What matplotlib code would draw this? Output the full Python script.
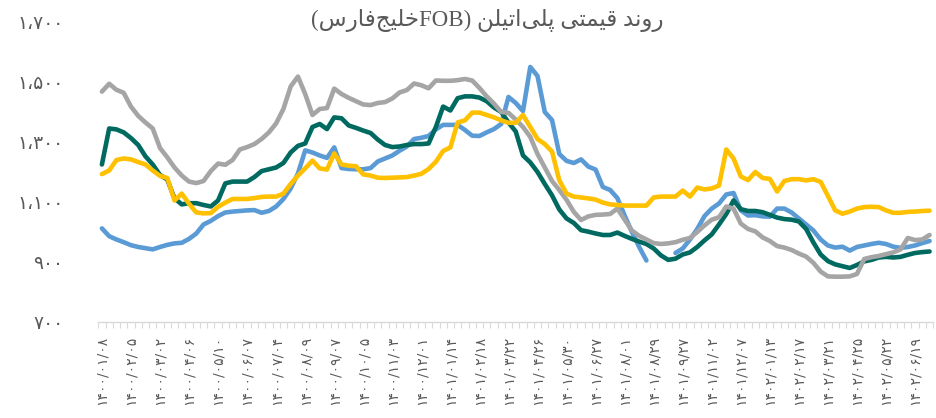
import numpy as np
import matplotlib.pyplot as plt

# weekly FOB Persian Gulf polyethylene prices (USD/t), four grades
blue = [1012, 986, 975, 966, 956, 950, 946, 942, 950, 957,
        962, 964, 977, 995, 1025, 1037, 1053, 1065, 1068, 1070,
        1072, 1073, 1064, 1070, 1085, 1110, 1145, 1195, 1272, 1265,
        1255, 1247, 1282, 1213, 1210, 1209, 1209, 1213, 1235, 1245,
        1255, 1271, 1285, 1310, 1314, 1320, 1342, 1357, 1357, 1357,
        1340, 1321, 1320, 1332, 1343, 1360, 1450, 1430, 1403, 1550,
        1520, 1400, 1373, 1260, 1237, 1230, 1242, 1218, 1208, 1150,
        1140, 1113, 1055, 1000, 950, 905, np.nan, np.nan, np.nan, 930,
        945, 975, 1010, 1053, 1078, 1095, 1125, 1130, 1072, 1055,
        1056, 1052, 1051, 1078, 1078, 1065, 1045, 1025, 1005, 975,
        955, 948, 951, 938, 950, 955, 960, 964, 960, 951,
        947, 950, 955, 963, 970]
teal = [1225, 1345, 1342, 1332, 1313, 1290, 1252, 1225, 1190, 1175,
        1112, 1092, 1096, 1096, 1090, 1085, 1105, 1162, 1168, 1168,
        1168, 1183, 1203, 1209, 1215, 1230, 1265, 1287, 1295, 1350,
        1360, 1343, 1382, 1379, 1355, 1347, 1338, 1330, 1308, 1290,
        1283, 1285, 1290, 1293, 1293, 1295, 1350, 1418, 1405, 1446,
        1452, 1452, 1448, 1436, 1415, 1400, 1365, 1335, 1255, 1232,
        1200, 1160, 1122, 1075, 1045, 1030, 1006, 1001, 995, 990,
        990, 998, 987, 977, 968, 960, 945, 922, 907, 911,
        925, 932, 950, 972, 992, 1025, 1060, 1105, 1076, 1070,
        1070, 1066, 1057, 1048, 1043, 1041, 1035, 1010, 965, 925,
        903, 892, 886, 880, 890, 902, 907, 915, 917, 915,
        917, 924, 930, 933, 935]
gray = [1468, 1494, 1474, 1464, 1418, 1387, 1365, 1345, 1280, 1249,
        1215, 1188, 1168, 1163, 1170, 1203, 1228, 1224, 1240, 1275,
        1283, 1293, 1310, 1332, 1362, 1410, 1485, 1518, 1460, 1390,
        1410, 1413, 1478, 1460, 1447, 1436, 1425, 1423, 1430, 1433,
        1445, 1465, 1473, 1495, 1489, 1479, 1505, 1504, 1504, 1506,
        1510, 1505, 1480, 1452, 1428, 1400, 1397, 1375, 1350, 1317,
        1260, 1215, 1170, 1140, 1107, 1067, 1040, 1052, 1057, 1058,
        1060, 1078, 1041, 1005, 987, 975, 963, 960, 962, 966,
        974, 980, 1000, 1022, 1041, 1049, 1085, 1078, 1028, 1010,
        1002, 982, 970, 953, 948, 940, 928, 918, 897, 868,
        852, 851, 851, 852, 860, 910, 916, 920, 926, 932,
        942, 980, 973, 975, 990]
yellow = [1193, 1205, 1240, 1245, 1242, 1233, 1225, 1205, 1187, 1180,
          1105, 1128, 1094, 1065, 1062, 1063, 1084, 1098, 1110, 1110,
          1110, 1113, 1117, 1118, 1118, 1128, 1160, 1188, 1212, 1238,
          1212, 1208, 1262, 1225, 1221, 1219, 1192, 1188, 1181, 1180,
          1181, 1182, 1183, 1188, 1194, 1210, 1234, 1270, 1282, 1365,
          1372, 1398, 1398, 1390, 1382, 1372, 1364, 1364, 1390, 1350,
          1310, 1293, 1268, 1172, 1128, 1118, 1115, 1112, 1108, 1098,
          1092, 1090, 1088, 1088, 1088, 1088, 1115, 1118, 1118, 1118,
          1138, 1118, 1148, 1142, 1145, 1155, 1275, 1245, 1185, 1173,
          1200, 1180, 1177, 1135, 1170, 1176, 1176, 1172, 1176, 1167,
          1120, 1072, 1061, 1068, 1078, 1083, 1084, 1083, 1072, 1064,
          1064, 1067, 1068, 1070, 1071]

# one label every fourth week
date_labels = ['1400/01/08', '1400/02/05', '1400/03/02', '1400/04/06', '1400/05/10',
               '1400/06/07', '1400/07/04', '1400/08/09', '1400/09/07', '1400/10/05',
               '1400/11/03', '1400/12/01', '1401/01/14', '1401/02/18', '1401/03/22',
               '1401/04/26', '1401/05/30', '1401/06/27', '1401/08/01', '1401/08/29',
               '1401/09/27', '1401/11/02', '1401/12/07', '1402/01/13', '1402/02/17',
               '1402/03/21', '1402/04/25', '1402/05/22', '1402/06/19']
y_ticks = [700, 900, 1100, 1300, 1500, 1700]
title_fa = 'روند قیمتی پلی\u200cاتیلن'
title_tail = 'خلیج\u200cفارس'

colors = ['#5B9BD5', '#006A61', '#A5A5A5', '#FFC000']

FA_DIGITS = str.maketrans('0123456789', '۰۱۲۳۴۵۶۷۸۹')

# presentation forms: isolated, final, initial, medial
FORMS = {
    'ا': ('\uFE8D', '\uFE8E', None, None),
    'ت': ('\uFE95', '\uFE96', '\uFE97', '\uFE98'),
    'ج': ('\uFE9D', '\uFE9E', '\uFE9F', '\uFEA0'),
    'خ': ('\uFEA5', '\uFEA6', '\uFEA7', '\uFEA8'),
    'د': ('\uFEA9', '\uFEAA', None, None),
    'ر': ('\uFEAD', '\uFEAE', None, None),
    'س': ('\uFEB1', '\uFEB2', '\uFEB3', '\uFEB4'),
    'ف': ('\uFED1', '\uFED2', '\uFED3', '\uFED4'),
    'ق': ('\uFED5', '\uFED6', '\uFED7', '\uFED8'),
    'ل': ('\uFEDD', '\uFEDE', '\uFEDF', '\uFEE0'),
    'م': ('\uFEE1', '\uFEE2', '\uFEE3', '\uFEE4'),
    'ن': ('\uFEE5', '\uFEE6', '\uFEE7', '\uFEE8'),
    'و': ('\uFEED', '\uFEEE', None, None),
    'ی': ('\uFEEF', '\uFEF0', '\uFEF3', '\uFEF4'),
    'پ': ('\uFB56', '\uFB57', '\uFB58', '\uFB59'),
}


def fa(text):
    """Shape a Persian run and put it in visual (left-to-right) order."""
    out = []
    for i, ch in enumerate(text):
        forms = FORMS.get(ch)
        if forms is None:
            out.append(ch)
            continue
        prev = text[i - 1] if i > 0 else ''
        nxt = text[i + 1] if i + 1 < len(text) else ''
        join_prev = prev in FORMS and FORMS[prev][2] is not None
        join_next = forms[2] is not None and nxt in FORMS
        if join_prev and join_next:
            out.append(forms[3])
        elif join_prev:
            out.append(forms[1])
        elif join_next:
            out.append(forms[2])
        else:
            out.append(forms[0])
    return ''.join(reversed(out)).replace('\u200c', '')


fig = plt.figure(figsize=(9.36, 4.18), dpi=100)
ax = fig.add_axes([0.105, 0.2297, 0.892, 0.7177])

x = np.arange(len(blue))
for vals, c in zip([blue, teal, gray, yellow], colors):
    ax.plot(x, vals, color=c, lw=3.3, solid_joinstyle='round', solid_capstyle='round')

ax.set_xlim(-0.5, len(x) - 0.5)
ax.set_ylim(700, 1700)

ax.set_yticks(y_ticks)
ax.set_yticklabels([f'{v:,}'.replace(',', '،').translate(FA_DIGITS) for v in y_ticks])
ax.tick_params(axis='y', length=0, pad=25, labelsize=13.5, labelcolor='#595959')

ax.set_xticks(np.arange(0, len(x), 4))
ax.set_xticklabels([d.translate(FA_DIGITS) for d in date_labels], rotation=90)
ax.set_xticks(np.arange(-0.5, len(x)), minor=True)
ax.tick_params(axis='x', which='major', length=0, pad=10, labelsize=10, labelcolor='#595959')
ax.tick_params(axis='x', which='minor', length=4, width=0.8, color='#D9D9D9')

for s in ['top', 'right', 'left']:
    ax.spines[s].set_visible(False)
ax.spines['bottom'].set_color('#D9D9D9')
ax.spines['bottom'].set_linewidth(1)

# right-to-left title: the parenthetical sits on the left, the heading on the right
title = '(' + fa(title_tail) + 'FOB) ' + fa(title_fa)
fig.text(0.521, 0.938, title, ha='center', va='baseline', fontsize=16.5,
         color='#595959', family=['Liberation Serif', 'DejaVu Sans'])

fig.savefig('out.png', dpi=100)
